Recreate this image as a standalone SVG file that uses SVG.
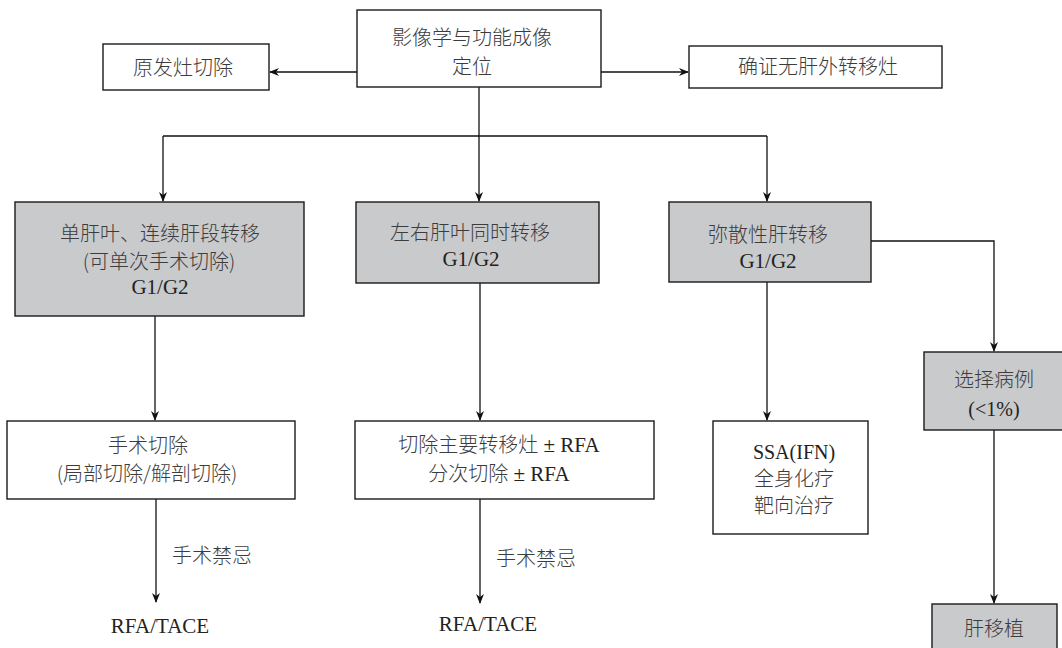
<svg xmlns="http://www.w3.org/2000/svg" width="1062" height="648" viewBox="0 0 1062 648">
<style>
.box{fill:#ffffff;stroke:#1a1a1a;stroke-width:1.4}
.gray{fill:#c9cacc;stroke:#1a1a1a;stroke-width:1.4}
.cn{font-family:"Noto Sans CJK SC","Noto Sans",sans-serif;font-size:20px;fill:#3c3c3c;font-weight:300}
.en{font-family:"Liberation Serif",serif;font-size:21px;fill:#222}
.c{text-anchor:middle}
.ln{fill:none;stroke:#111;stroke-width:1.3}
</style>
<defs>
<marker id="ah" markerWidth="10" markerHeight="10" refX="9" refY="5" orient="auto" markerUnits="userSpaceOnUse">
<path d="M0,1 L10,5 L0,9 L3,5 z" fill="#111"/>
</marker>
</defs>
<g id="connectors">
<line class="ln" x1="357" y1="72" x2="270" y2="72" marker-end="url(#ah)"/>
<line class="ln" x1="601" y1="72" x2="688" y2="72" marker-end="url(#ah)"/>
<polyline class="ln" points="479,87 479,136"/>
<polyline class="ln" points="163,136 767,136"/>
<line class="ln" x1="163" y1="136" x2="163" y2="201" marker-end="url(#ah)"/>
<line class="ln" x1="479" y1="136" x2="479" y2="201" marker-end="url(#ah)"/>
<line class="ln" x1="767" y1="136" x2="767" y2="201" marker-end="url(#ah)"/>
<line class="ln" x1="155" y1="316" x2="155" y2="420" marker-end="url(#ah)"/>
<line class="ln" x1="480" y1="283" x2="480" y2="420" marker-end="url(#ah)"/>
<line class="ln" x1="767" y1="282" x2="767" y2="420" marker-end="url(#ah)"/>
<polyline class="ln" points="871,241 994,241 994,351" marker-end="url(#ah)"/>
<line class="ln" x1="156" y1="499" x2="156" y2="602" marker-end="url(#ah)"/>
<line class="ln" x1="480" y1="499" x2="480" y2="603" marker-end="url(#ah)"/>
<line class="ln" x1="994" y1="430" x2="994" y2="603" marker-end="url(#ah)"/>
</g>
<g id="n-top">
<rect class="box" x="357" y="10" width="244" height="77"/>
<text class="cn c" x="472" y="45">影像学与功能成像</text>
<text class="cn c" x="472" y="74">定位</text>
</g>
<g id="n-primary">
<rect class="box" x="103" y="44" width="166" height="46"/>
<text class="cn c" x="183" y="75">原发灶切除</text>
</g>
<g id="n-noextra">
<rect class="box" x="689" y="46" width="253" height="42"/>
<text class="cn c" x="818" y="74">确证无肝外转移灶</text>
</g>
<g id="n-single">
<rect class="gray" x="15" y="202" width="289" height="114"/>
<text class="cn c" x="160" y="241">单肝叶、连续肝段转移</text>
<text class="cn c" x="159" y="269">(可单次手术切除)</text>
<text class="en c" x="160" y="294">G1/G2</text>
</g>
<g id="n-both">
<rect class="gray" x="356" y="202" width="243" height="81"/>
<text class="cn c" x="470" y="240">左右肝叶同时转移</text>
<text class="en c" x="471" y="266">G1/G2</text>
</g>
<g id="n-diffuse">
<rect class="gray" x="669" y="202" width="202" height="80"/>
<text class="cn c" x="768" y="242">弥散性肝转移</text>
<text class="en c" x="768" y="268">G1/G2</text>
</g>
<g id="n-surgery">
<rect class="box" x="7" y="421" width="288" height="78"/>
<text class="cn c" x="148" y="453">手术切除</text>
<text class="cn c" x="147" y="481">(局部切除/解剖切除)</text>
</g>
<g id="n-resect">
<rect class="box" x="355" y="421" width="299" height="78"/>
<text class="cn c" x="499" y="452">切除主要转移灶<tspan class="en"> ± RFA</tspan></text>
<text class="cn c" x="499" y="481">分次切除<tspan class="en"> ± RFA</tspan></text>
</g>
<g id="n-ssa">
<rect class="box" x="713" y="421" width="155" height="113"/>
<text class="en c" x="794" y="459" style="font-size:20px">SSA(IFN)</text>
<text class="cn c" x="794" y="486">全身化疗</text>
<text class="cn c" x="794" y="513">靶向治疗</text>
</g>
<g id="n-select">
<rect class="gray" x="924" y="352" width="142" height="78"/>
<text class="cn c" x="994" y="387">选择病例</text>
<text class="en c" x="994" y="416" style="font-size:20px">(&lt;1%)</text>
</g>
<g id="n-transplant">
<rect class="gray" x="932" y="604" width="125" height="50"/>
<text class="cn c" x="994" y="636">肝移植</text>
</g>
<g id="labels">
<text class="cn" x="172" y="563">手术禁忌</text>
<text class="cn" x="496" y="566">手术禁忌</text>
<text class="en c" x="160" y="633">RFA/TACE</text>
<text class="en c" x="488" y="631">RFA/TACE</text>
</g>
</svg>
